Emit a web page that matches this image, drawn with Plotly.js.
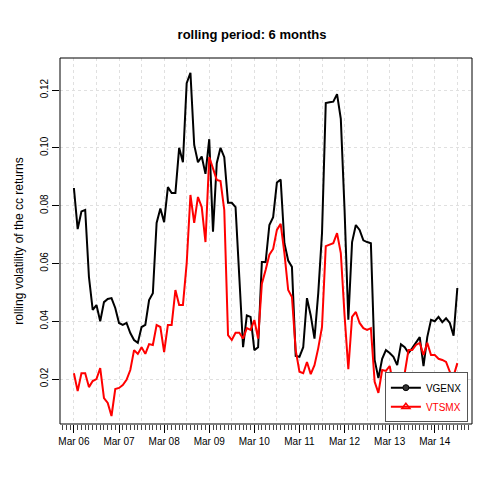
<!DOCTYPE html>
<html>
<head>
<meta charset="utf-8">
<script src="https://cdn.plot.ly/plotly-3.0.1.min.js"></script>
<style>body{margin:0;background:#fff}#chart{width:504px;height:504px}</style>
</head>
<body>
<div id="chart"></div>
<script>
// monthly rolling 6-month volatility, Mar 06 .. Sep 14
const vgenx = [0.0861,0.0719,0.078,0.0785,0.0553,0.0439,0.0456,0.040,0.0466,0.0477,
  0.048,0.0446,0.0394,0.0387,0.0394,0.0359,0.0335,0.0325,0.038,0.0387,
  0.0473,0.0497,0.074,0.079,0.0743,0.0864,0.0844,0.0844,0.100,0.095,
  0.1224,0.126,0.101,0.095,0.097,0.091,0.103,0.071,0.0947,0.100,
  0.0968,0.081,0.081,0.0795,0.0553,0.031,0.042,0.0415,0.030,0.031,
  0.0605,0.0605,0.0733,0.076,0.088,0.089,0.067,0.061,0.0588,0.028,
  0.0277,0.031,0.048,0.042,0.034,0.0497,0.0705,0.1155,0.1158,0.116,
  0.1186,0.110,0.0785,0.0405,0.0674,0.0733,0.0716,0.068,0.0674,0.067,
  0.0266,0.0203,0.027,0.030,0.029,0.0277,0.0248,0.032,0.031,0.029,
  0.0307,0.0328,0.0345,0.0245,0.0345,0.0405,0.040,0.0415,0.0397,0.041,
  0.0394,0.035,0.0515];
const vtsmx = [0.022,0.0158,0.022,0.022,0.0172,0.0193,0.020,0.0238,0.0134,0.0117,
  0.0072,0.0165,0.0169,0.0179,0.0197,0.0231,0.030,0.0287,0.031,0.0287,
  0.0321,0.0318,0.0387,0.038,0.0293,0.0387,0.0387,0.0508,0.0456,0.0456,
  0.060,0.0837,0.074,0.083,0.0795,0.0674,0.0968,0.093,0.0889,0.0885,
  0.0785,0.0352,0.0335,0.036,0.036,0.034,0.0376,0.037,0.0404,0.034,
  0.053,0.0577,0.063,0.065,0.0716,0.0737,0.0636,0.0508,0.0484,0.030,
  0.0225,0.022,0.0259,0.0217,0.0248,0.0307,0.038,0.066,0.0666,0.067,
  0.0705,0.0636,0.042,0.0234,0.0415,0.0432,0.0394,0.0376,0.037,0.0376,
  0.019,0.0152,0.0231,0.0228,0.0245,0.0179,0.0162,0.022,0.022,0.030,
  0.030,0.0318,0.0325,0.0283,0.0325,0.0283,0.0283,0.027,0.0266,0.0259,
  0.0225,0.021,0.0255];
const tickLabels = ['Mar 06','Mar 07','Mar 08','Mar 09','Mar 10','Mar 11','Mar 12','Mar 13','Mar 14'];

const months = vgenx.map((_, i) => i);
const tickVals = tickLabels.map((_, i) => i * 12);

const traces = [
  {x: months, y: vgenx, mode: 'lines', line: {color: 'black', width: 2}, showlegend: false},
  {x: months, y: vtsmx, mode: 'lines', line: {color: 'red', width: 2}, showlegend: false},
  {x: [null], y: [null], name: 'VGENX', mode: 'lines+markers',
   line: {color: 'black', width: 2}, marker: {symbol: 'circle', size: 6, color: '#333', line: {color: 'black', width: 1}}},
  {x: [null], y: [null], name: '<span style="color:red">VTSMX</span>', mode: 'lines+markers',
   line: {color: 'red', width: 2}, marker: {symbol: 'triangle-up-open', size: 7, color: 'red', line: {width: 1.5}}},
  // overlay axis only for the 6-month grid
  {x: months, y: vgenx, xaxis: 'x2', mode: 'lines', line: {width: 0}, hoverinfo: 'skip', showlegend: false}
];

const layout = {
  width: 504, height: 504,
  margin: {l: 60, r: 32, t: 58, b: 80},
  paper_bgcolor: 'white', plot_bgcolor: 'white',
  font: {family: 'Liberation Sans, Arial, sans-serif', size: 11, color: 'black'},
  title: {text: '<b>rolling period: 6 months</b>', x: 0.5, y: 0.94, font: {size: 13}},
  xaxis: {
    range: [-3.7, 105.9], tickmode: 'array', tickvals: tickVals, ticktext: tickLabels,
    ticks: 'outside', ticklen: 8, tickcolor: 'black', showgrid: false, zeroline: false,
    showline: false, tickfont: {size: 10},
    minor: {dtick: 1, tick0: 0, ticks: 'outside', ticklen: 5, tickcolor: '#444', showgrid: false}
  },
  xaxis2: {
    overlaying: 'x', range: [-3.7, 105.9], dtick: 6, tick0: 0, showticklabels: false,
    showgrid: true, gridcolor: '#e0e0e0', griddash: 'dot', zeroline: false, ticks: ''
  },
  yaxis: {
    range: [0.00443, 0.1311], tickvals: [0.02, 0.04, 0.06, 0.08, 0.10, 0.12],
    ticktext: ['0.02', '0.04', '0.06', '0.08', '0.10', '0.12'],
    tickangle: -90, ticks: 'outside', ticklen: 7, tickcolor: 'black',
    showgrid: true, gridcolor: '#e0e0e0', griddash: 'dot', zeroline: false, showline: false,
    tickfont: {size: 10},
    title: {text: 'rolling volatility of the cc returns', font: {size: 12}, standoff: 12}
  },
  legend: {
    x: 0.99, y: 0.005, xanchor: 'right', yanchor: 'bottom',
    bordercolor: '#555', borderwidth: 1, bgcolor: 'white', font: {size: 10},
    itemwidth: 30, tracegroupgap: 0
  },
  shapes: [{type: 'rect', xref: 'paper', yref: 'paper', x0: 0, x1: 1, y0: 0, y1: 1,
            line: {color: 'black', width: 1}}]
};

Plotly.newPlot('chart', traces, layout, {displayModeBar: false, staticPlot: true});
</script>
</body>
</html>
